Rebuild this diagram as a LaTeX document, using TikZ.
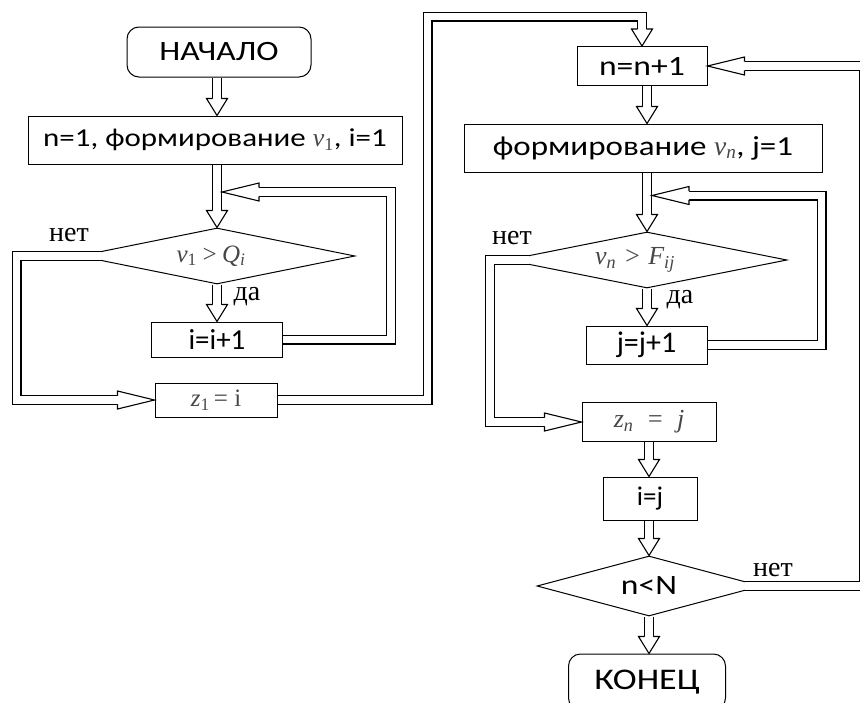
\documentclass[tikz,border=0pt]{standalone}
\usepackage{fontspec}
\setmainfont{Carlito}[FakeStretch=1.2]
\newfontfamily\calplain{Carlito}
\newfontfamily\tnr{Liberation Serif}
\usetikzlibrary{shapes.geometric,decorations.markings,calc}
\newcommand\fsz[1]{\fontsize{#1}{#1}\selectfont}
\newcommand\mv[1]{{\tnr\itshape\color{black!72}#1}}
\newcommand\vtipshape{\filldraw[draw=black,fill=white,line width=1.1pt,shorten >=0pt,shorten <=0pt,line join=miter]
  (-17pt,4.45pt) -- (-17pt,10.5pt) -- (0pt,0pt) -- (-17pt,-10.5pt) -- (-17pt,-4.45pt);}
\newcommand\htipshape{\filldraw[draw=black,fill=white,line width=1.1pt,shorten >=0pt,shorten <=0pt,line join=miter]
  (-37pt,4.45pt) -- (-37pt,9pt) -- (0pt,0pt) -- (-37pt,-9pt) -- (-37pt,-4.45pt);}
\tikzset{
  blk/.style={draw,line width=1pt,rectangle,inner sep=0pt},
  term/.style={blk,rounded corners=12pt},
  dia/.style={draw,line width=1pt,diamond,aspect=5,inner sep=0pt},
  lab/.style={font=\tnr\fsz{28},inner sep=0pt},
  dbl/.style={draw=black,line width=1.1pt,double=white,double distance=7.8pt,line join=miter},
  varr/.style={dbl,shorten >=17pt,postaction={decorate,decoration={markings,mark=at position 1 with {\vtipshape}}}},
  harr/.style={dbl,shorten >=37pt,postaction={decorate,decoration={markings,mark=at position 1 with {\htipshape}}}}
}
\begin{document}
\begin{tikzpicture}[x=1pt,y=-1pt]
\useasboundingbox (0,0) rectangle (860,702);
\clip (0,0) rectangle (860,702);
% left column
\node[term,minimum width=184,minimum height=50,font=\fsz{28}] (start) at (219,52) {НАЧАЛО};
\node[blk,minimum width=374,minimum height=48,font=\fsz{25.8}] (box1) at (215,140) {n=1, формирование \mv{ν\textsubscript{\upshape 1}}, i=1};
\node[dia,minimum width=276,minimum height=56] (d1) at (217,256) {};
\node[font=\fsz{25},inner sep=0pt] (t1x) at ([xshift=-6]d1.center) {\mv{ν\textsubscript{\upshape 1}\,>\,Q\textsubscript{i}}};
\node[blk,minimum width=131,minimum height=35,font=\calplain\fsz{29}] (inc1) at (217,339.5) {i=i+1};
\node[blk,minimum width=122,minimum height=34,font=\fsz{25}] (z1) at (216,400) {\mv{z\textsubscript{\upshape 1}\,{\upshape = i}}};
\node[lab] (no1) at (69,235) {нет};
\node[lab] (yes1) at (247,297) {да};
% right column
\node[blk,minimum width=130,minimum height=39,font=\fsz{28}] (nn) at (642,66) {n=n+1};
\node[blk,minimum width=358,minimum height=48,font=\fsz{27.5}] (form) at (643,148) {формирование \mv{ν\textsubscript{n}}, j=1};
\node[dia,minimum width=280,minimum height=56] (d2) at (647,260) {};
\node[font=\fsz{26},inner sep=0pt] (t2x) at ([xshift=-12]d2.center) {\mv{ν\textsubscript{n}\;>\;F\textsubscript{ij}}};
\node[blk,minimum width=121,minimum height=38,font=\calplain\fsz{30}] (inc2) at (646.5,345) {j=j+1};
\node[blk,minimum width=134,minimum height=39,font=\fsz{26}] (zn) at (649,422) {\mv{z\textsubscript{n}\enspace=\enspace j}};
\node[blk,minimum width=94,minimum height=43,font=\calplain\fsz{27}] (ij) at (650,498.5) {i=j};
\node[dia,minimum width=224,minimum height=60,font=\fsz{28}] (d3) at (649,586) {n<N};
\node[term,minimum width=157,minimum height=56,font=\fsz{30}] (fin) at (647,682) {КОНЕЦ};
\node[lab] (no2) at (512,238) {нет};
\node[lab] (yes2) at (680,300) {да};
\node[lab] (no3) at (773,570) {нет};
% helper coordinates
\coordinate (d1n) at ($(d1.west)+(22,0)$);
\coordinate (d2n) at ($(d2.west)+(22.5,0)$);
\coordinate (d3n) at ($(d3.east)+(-17,0)$);
\coordinate (c1) at (427.5,16.5);
\coordinate (l1) at (391,192);
\coordinate (t1) at (222,192);
\coordinate (c3) at (16.5,400);
\coordinate (l2) at (821.5,195.5);
\coordinate (t2) at (652,195.5);
\coordinate (c4) at (490,422);
\coordinate (c5) at (864,66);
% main flow
\draw[varr] (start.south -| d1) -- (box1.north -| d1);
\draw[varr] (box1.south -| d1) -- (d1.north);
\draw[varr] (d1.south) -- (inc1.north);
\draw[harr] (inc1.east) -| (l1) -- (t1);
\draw[harr] (d1n) -| (c3) -- (z1.west);
\draw[varr] (z1.east) -| (c1) -| (nn.north);
\draw[varr] (nn.south -| d2) -- (form.north -| d2);
\draw[varr] (form.south -| d2) -- (d2.north);
\draw[varr] (d2.south) -- (inc2.north -| d2);
\draw[harr] (inc2.east) -| (l2) -- (t2);
\draw[harr] (d2n) -| (c4) -- (zn.west);
\draw[varr] (zn.south -| d3) -- (ij.north -| d3);
\draw[varr] (ij.south -| d3) -- (d3.north);
\draw[varr] (d3.south) -- (fin.north -| d3);
\draw[harr] (d3n) -| (c5) -- (nn.east);
\end{tikzpicture}
\end{document}
